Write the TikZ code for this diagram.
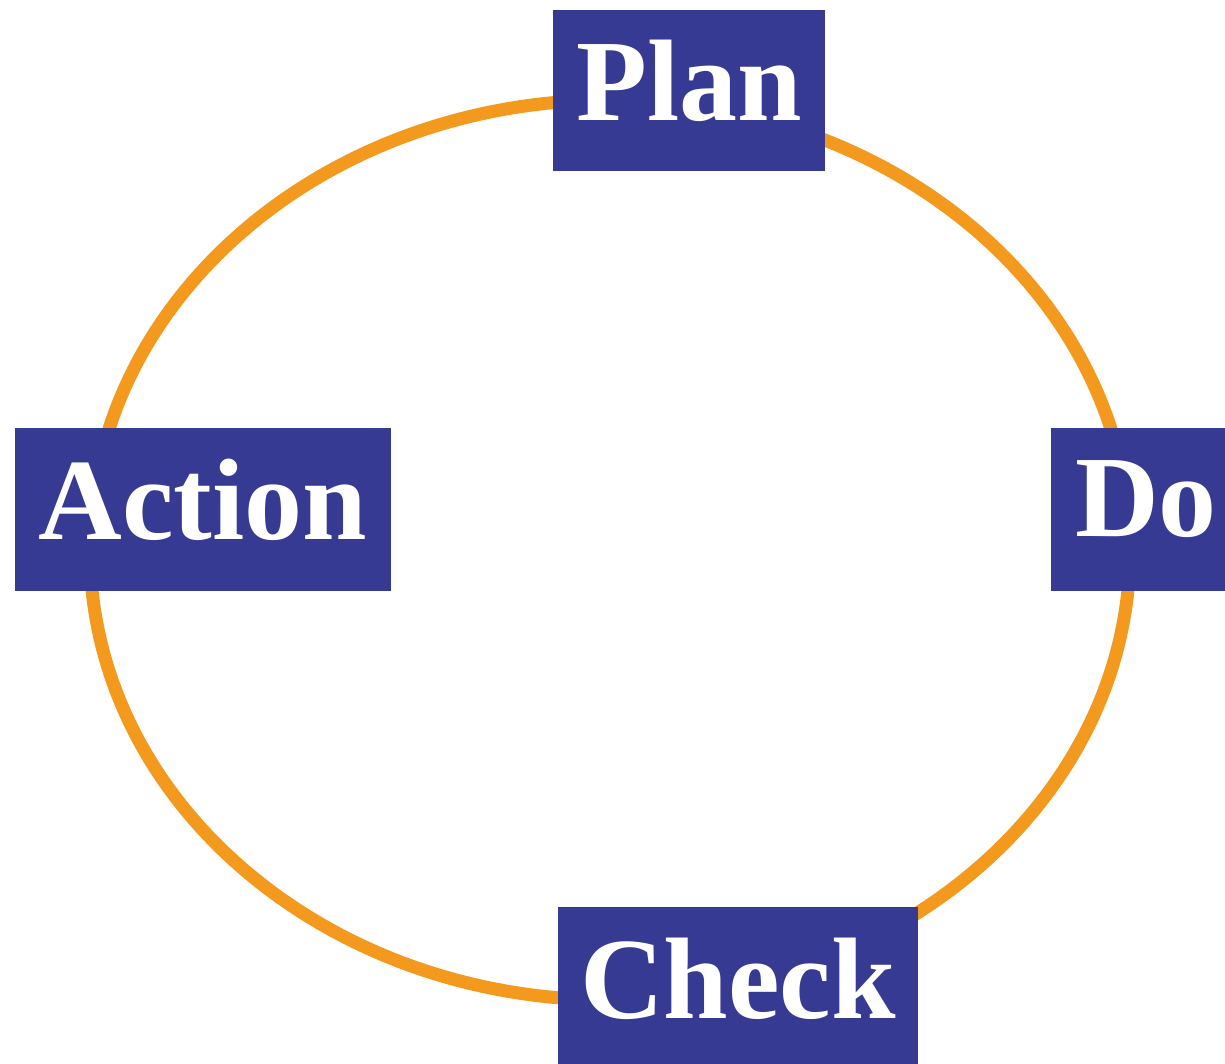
\documentclass[tikz,border=0pt]{standalone}
\usepackage{fontspec}
\setmainfont{Liberation Serif}
\usetikzlibrary{positioning}

\definecolor{pdcablue}{RGB}{54,58,147}
\definecolor{pdcaorange}{RGB}{243,154,30}

\tikzset{
stage/.style={fill=pdcablue, text=white, inner sep=0pt, text depth=0.42cm,
font=\bfseries\fontsize{66}{70}\selectfont},
ring/.style={draw=pdcaorange, line width=0.26cm}
}

\begin{document}
\begin{tikzpicture}
\useasboundingbox (0,0) rectangle (24.5,21.28);
\coordinate (hub) at (12.2,10.28);
\draw[ring] (hub) ellipse [x radius=10.4, y radius=9];
\node[stage, minimum width=5.44cm, minimum height=3.22cm] (plan) at (13.78,19.47) {Plan};
\node[stage, minimum width=3.8cm, minimum height=3.26cm] (do) at (22.92,11.09) {Do};
\node[stage, minimum width=7.2cm, minimum height=3.26cm] (check) at (14.76,1.51) {Check};
\node[stage, minimum width=7.52cm, minimum height=3.26cm] (action) at (4.06,11.09) {Action};
\end{tikzpicture}
\end{document}
